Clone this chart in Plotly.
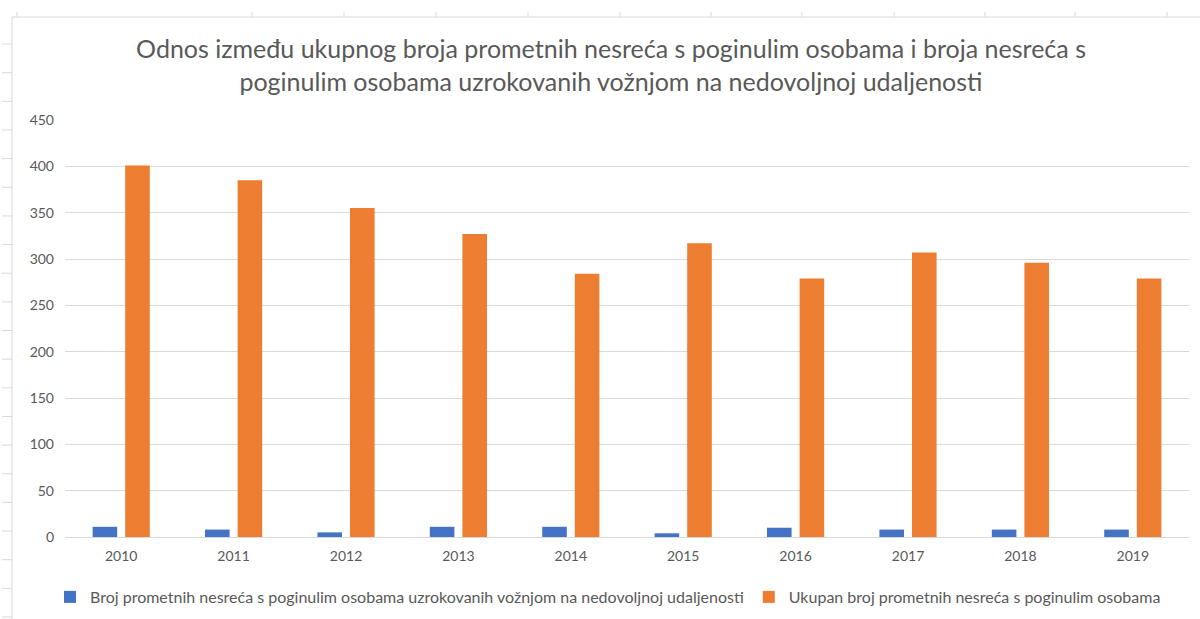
import plotly.graph_objects as go

years = ["2010", "2011", "2012", "2013", "2014", "2015", "2016", "2017", "2018", "2019"]
distance_deaths = [11, 8, 5, 11, 11, 4, 10, 8, 8, 8]
total_deaths = [401, 385, 355, 327, 284, 317, 279, 307, 296, 279]

name_blue = "Broj prometnih nesreća s poginulim osobama uzrokovanih vožnjom na nedovoljnoj udaljenosti"
name_orange = "Ukupan broj prometnih nesreća s poginulim osobama"
title_text = ("Odnos između ukupnog broja prometnih nesreća s poginulim osobama i broja nesreća s<br>"
              "poginulim osobama uzrokovanih vožnjom na nedovoljnoj udaljenosti")

FONT = "Lato"
GRAY = "#595959"

fig = go.Figure()
fig.add_trace(go.Bar(x=years, y=distance_deaths, name=name_blue,
                     marker=dict(color="#4472C4", line=dict(width=0))))
fig.add_trace(go.Bar(x=years, y=total_deaths, name=name_orange,
                     marker=dict(color="#ED7D31", line=dict(width=0))))

L, R, T, B = 65, 11, 120, 82
W, H = 1200, 619
pw, ph = W - L - R, H - T - B

def px(x):
    return (x - L) / pw

def py(y):
    return (H - B - y) / ph

shapes = []
# worksheet-style frame
shapes.append(dict(type="line", xref="paper", yref="paper", x0=px(12), x1=px(1200), y0=py(17), y1=py(17),
                   line=dict(color="#d9d9d9", width=1)))
shapes.append(dict(type="line", xref="paper", yref="paper", x0=px(12), x1=px(12), y0=py(17), y1=py(619),
                   line=dict(color="#d9d9d9", width=1)))
yy = 44.0
while yy < 619:
    shapes.append(dict(type="line", xref="paper", yref="paper", x0=px(2), x1=px(12), y0=py(yy), y1=py(yy),
                       line=dict(color="#d9d9d9", width=1)))
    yy += 28.65
for xx in [17, 252, 344, 436, 528, 620, 711, 802, 894, 985, 1075, 1167]:
    shapes.append(dict(type="line", xref="paper", yref="paper", x0=px(xx), x1=px(xx), y0=py(12), y1=py(17),
                       line=dict(color="#d9d9d9", width=1)))

fig.update_layout(
    width=W, height=H,
    margin=dict(l=L, r=R, t=T, b=B, autoexpand=False),
    paper_bgcolor="white", plot_bgcolor="white",
    font=dict(family=FONT, color=GRAY, size=14),
    title=dict(text=title_text, x=611 / W, xanchor="center", xref="container",
               y=1 - 58 / H, yanchor="middle", yref="container",
               font=dict(family=FONT, size=25, color=GRAY)),
    barmode="group", bargap=0.42, bargroupgap=0.246,
    showlegend=True,
    legend=dict(orientation="h", x=px(608), xanchor="center", y=py(597), yanchor="middle",
                font=dict(family=FONT, size=16, color=GRAY), bgcolor="rgba(0,0,0,0)",
                itemwidth=30, tracegroupgap=0),
    xaxis=dict(showgrid=False, showline=True, linecolor="#d9d9d9", linewidth=1,
               ticks="", tickfont=dict(size=14, color=GRAY), ticklabelstandoff=6),
    yaxis=dict(range=[0, 450], dtick=50, showgrid=True, gridcolor="#d9d9d9", gridwidth=1,
               zeroline=False, showline=False, ticks="", tickfont=dict(size=14, color=GRAY),
               ticklabelstandoff=10),
    shapes=shapes,
)

fig.write_html("out.html", config={"displayModeBar": False},
               post_script="document.body.style.margin='0';document.body.style.overflow='hidden';")
